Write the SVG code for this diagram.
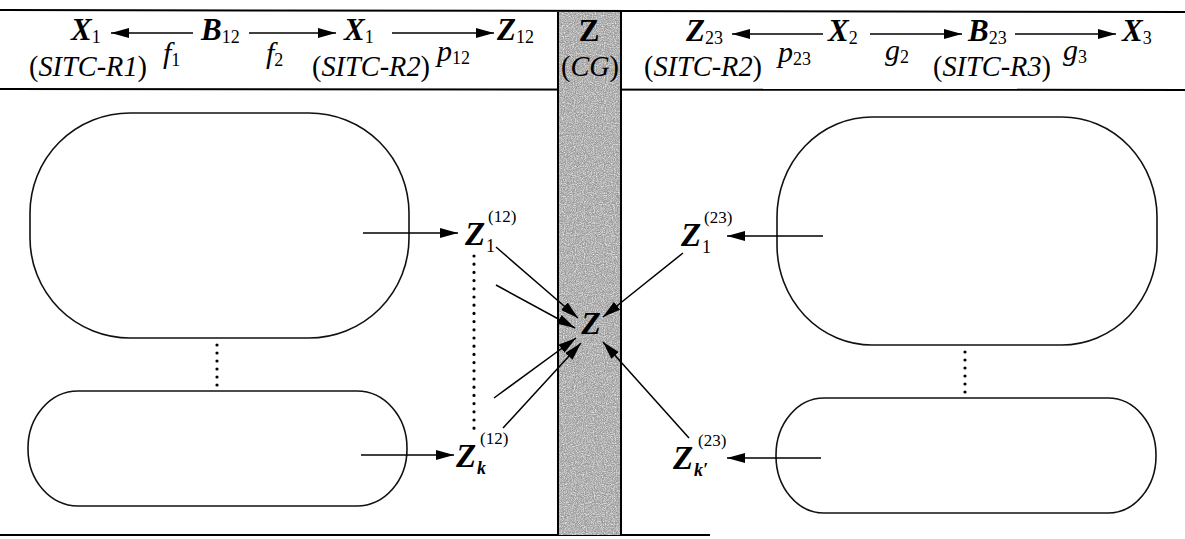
<svg xmlns="http://www.w3.org/2000/svg" width="1185" height="539" viewBox="0 0 1185 539">
<style>
text{font-family:"Liberation Serif","Times New Roman",serif;fill:#000}
.big{font-size:31px;font-weight:bold;font-style:italic}
.lab{font-size:33px;font-weight:bold;font-style:italic}
.it{font-size:30px;font-style:italic}
.sub{font-size:18px;font-style:normal;font-weight:normal}
.subk{font-size:18px;font-style:italic;font-weight:bold}
.sup{font-size:17px;font-style:normal;font-weight:normal}
.sitc{font-size:29px;font-style:italic}
.par{font-style:normal}
.rule{stroke:#000;stroke-width:2;fill:none}
.node{stroke:#111;stroke-width:1.6;fill:none}
.arr{stroke:#000;stroke-width:1.5;fill:none;marker-end:url(#ah)}
.dot{fill:#000}
</style>
<defs>
<marker id="ah" markerUnits="userSpaceOnUse" markerWidth="19" markerHeight="10" refX="18" refY="5" orient="auto">
<path d="M0,0 L18,5 L0,10 z" fill="#000"/>
</marker>
<filter id="noise" x="0" y="0" width="100%" height="100%">
<feTurbulence type="fractalNoise" baseFrequency="0.85" numOctaves="2" seed="4" result="t"/>
<feColorMatrix in="t" type="matrix" values="0 0 0 0 0.25  0 0 0 0 0.25  0 0 0 0 0.25  1.6 0 0 0 -0.55"/>
</filter>
<filter id="noise2" x="0" y="0" width="100%" height="100%">
<feTurbulence type="fractalNoise" baseFrequency="0.9" numOctaves="2" seed="11" result="t"/>
<feColorMatrix in="t" type="matrix" values="0 0 0 0 1  0 0 0 0 1  0 0 0 0 1  1.6 0 0 0 -0.6"/>
</filter>
</defs>

<g id="rules">
<line class="rule" x1="0" y1="10" x2="1185" y2="12"/>
<line class="rule" x1="0" y1="89" x2="1185" y2="90"/>
<line class="rule" x1="0" y1="535" x2="710" y2="535"/>
</g>

<g id="cg-column">
<rect x="558" y="12" width="63" height="523" fill="#a6a6a6"/>
<rect x="558" y="12" width="63" height="523" fill="#fff" filter="url(#noise)"/>
<rect x="558" y="12" width="63" height="523" fill="#fff" filter="url(#noise2)"/>
<line x1="558" y1="12" x2="558" y2="535" stroke="#000" stroke-width="2"/>
<line x1="621" y1="12" x2="621" y2="535" stroke="#000" stroke-width="2"/>
<text x="589" y="41" text-anchor="middle" class="big" style="font-style:normal">Z</text>
<text x="590" y="76" text-anchor="middle" class="sitc" textLength="58" lengthAdjust="spacingAndGlyphs"><tspan class="par">(</tspan>CG<tspan class="par">)</tspan></text>
</g>

<g id="header">
<text x="71" y="40"><tspan class="big">X</tspan><tspan class="sub" dy="3">1</tspan></text>
<text x="29" y="76" class="sitc" textLength="118" lengthAdjust="spacingAndGlyphs"><tspan class="par">(</tspan>SITC-R1<tspan class="par">)</tspan></text>
<text x="163" y="63"><tspan class="it">f</tspan><tspan class="sub" dy="3">1</tspan></text>
<text x="201" y="40"><tspan class="big">B</tspan><tspan class="sub" dy="3">12</tspan></text>
<text x="266" y="63"><tspan class="it">f</tspan><tspan class="sub" dy="3">2</tspan></text>
<text x="344" y="40"><tspan class="big">X</tspan><tspan class="sub" dy="3">1</tspan></text>
<text x="312" y="76" class="sitc" textLength="118" lengthAdjust="spacingAndGlyphs"><tspan class="par">(</tspan>SITC-R2<tspan class="par">)</tspan></text>
<text x="437" y="61"><tspan class="it">p</tspan><tspan class="sub" dy="3">12</tspan></text>
<text x="497" y="40"><tspan class="big">Z</tspan><tspan class="sub" dy="3">12</tspan></text>

<text x="686" y="41"><tspan class="big">Z</tspan><tspan class="sub" dy="3">23</tspan></text>
<text x="644" y="76" class="sitc" textLength="118" lengthAdjust="spacingAndGlyphs"><tspan class="par">(</tspan>SITC-R2<tspan class="par">)</tspan></text>
<text x="778" y="62"><tspan class="it">p</tspan><tspan class="sub" dy="3">23</tspan></text>
<text x="828" y="41"><tspan class="big">X</tspan><tspan class="sub" dy="3">2</tspan></text>
<text x="885" y="60"><tspan class="it">g</tspan><tspan class="sub" dy="3">2</tspan></text>
<text x="968" y="41"><tspan class="big">B</tspan><tspan class="sub" dy="3">23</tspan></text>
<text x="933" y="76" class="sitc" textLength="118" lengthAdjust="spacingAndGlyphs"><tspan class="par">(</tspan>SITC-R3<tspan class="par">)</tspan></text>
<text x="1063" y="60"><tspan class="it">g</tspan><tspan class="sub" dy="3">3</tspan></text>
<text x="1122" y="41"><tspan class="big">X</tspan><tspan class="sub" dy="3">3</tspan></text>
</g>

<g id="node-left-top"><rect class="node" x="30" y="113" width="379" height="225" rx="100" ry="100"/></g>
<g id="node-left-bottom"><rect class="node" x="28" y="391" width="379" height="115" rx="50" ry="57"/></g>
<g id="node-right-top"><rect class="node" x="777" y="117" width="380" height="228" rx="95" ry="100"/></g>
<g id="node-right-bottom"><rect class="node" x="776" y="398" width="380" height="115" rx="48" ry="57"/></g>

<g id="node-z1-12">
<text x="465" y="245" class="lab">Z</text>
<text x="486" y="252" class="sub">1</text>
<text x="488" y="222" class="sup">(12)</text>
</g>
<g id="node-zk-12">
<text x="456" y="467" class="lab">Z</text>
<text x="477" y="474" class="subk">k</text>
<text x="480" y="444" class="sup">(12)</text>
</g>
<g id="node-z1-23">
<text x="681" y="246" class="lab">Z</text>
<text x="702" y="253" class="sub">1</text>
<text x="704" y="223" class="sup">(23)</text>
</g>
<g id="node-zk-23">
<text x="673" y="469" class="lab">Z</text>
<text x="694" y="476" class="subk">k′</text>
<text x="698" y="446" class="sup">(23)</text>
</g>
<g id="node-z"><text x="591" y="334" text-anchor="middle" class="lab" style="font-size:32px">Z</text></g>

<g id="dots">
<circle class="dot" cx="217" cy="345" r="1.6"/><circle class="dot" cx="217" cy="353" r="1.6"/><circle class="dot" cx="217" cy="361" r="1.6"/><circle class="dot" cx="217" cy="369" r="1.6"/><circle class="dot" cx="217" cy="377" r="1.6"/><circle class="dot" cx="217" cy="385" r="1.6"/>
<circle class="dot" cx="965" cy="352" r="1.6"/><circle class="dot" cx="965" cy="360" r="1.6"/><circle class="dot" cx="965" cy="368" r="1.6"/><circle class="dot" cx="965" cy="376" r="1.6"/><circle class="dot" cx="965" cy="384" r="1.6"/><circle class="dot" cx="965" cy="392" r="1.6"/>
<line x1="474" y1="256" x2="474" y2="436" stroke="#000" stroke-width="3.2" stroke-linecap="round" stroke-dasharray="0 8.2"/>
</g>

<g id="connectors">
<line class="arr" x1="193" y1="33" x2="111" y2="33"/>
<line class="arr" x1="249" y1="33" x2="336" y2="33"/>
<line class="arr" x1="392" y1="33" x2="494" y2="33"/>
<line class="arr" x1="823" y1="34" x2="732" y2="34"/>
<line class="arr" x1="870" y1="34" x2="962" y2="34"/>
<line class="arr" x1="1015" y1="34" x2="1116" y2="34"/>

<line class="arr" x1="363" y1="233" x2="458" y2="233"/>
<line class="arr" x1="361" y1="455" x2="454" y2="455"/>
<line class="arr" x1="823" y1="236" x2="727" y2="236"/>
<line class="arr" x1="821" y1="458" x2="727" y2="458"/>

<line class="arr" x1="496" y1="247" x2="578" y2="318"/>
<line class="arr" x1="496" y1="285" x2="575" y2="328"/>
<line class="arr" x1="494" y1="398" x2="576" y2="338"/>
<line class="arr" x1="503" y1="428" x2="581" y2="343"/>
<line class="arr" x1="683" y1="253" x2="603" y2="317"/>
<line class="arr" x1="689" y1="438" x2="603" y2="342"/>
</g>
</svg>
